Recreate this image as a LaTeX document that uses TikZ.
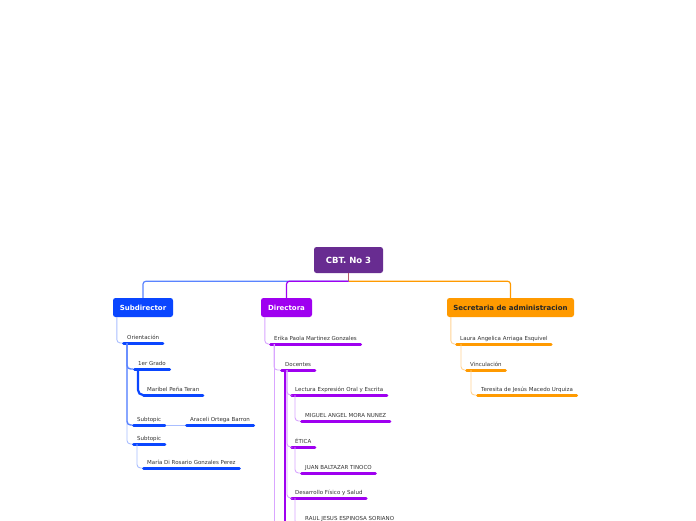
\documentclass[tikz,border=0pt]{standalone}
\usepackage{fontspec}
\newfontfamily\mapfont{DejaVu Sans}
\usetikzlibrary{calc}
\definecolor{cRoot}{HTML}{682C91}
\definecolor{cStub}{HTML}{B85A6A}
\definecolor{cBlue}{HTML}{0A46FF}
\definecolor{cBlueM}{HTML}{5A84FF}
\definecolor{cBlueL}{HTML}{A9BEFF}
\definecolor{cPurp}{HTML}{9F00F0}
\definecolor{cPurpL}{HTML}{D9A6FF}
\definecolor{cOrng}{HTML}{FF9A00}
\definecolor{cOrngL}{HTML}{FFD394}
\definecolor{cInk}{HTML}{333333}
\tikzset{
  mainbox/.style ={rounded corners=2.5pt, minimum height=19pt, inner sep=0pt,
                   font=\mapfont\bfseries\fontsize{7}{8}\selectfont, text=white},
  rootbox/.style ={mainbox, fill=cRoot, minimum width=69pt, minimum height=26pt,
                   font=\mapfont\bfseries\fontsize{8.5}{10}\selectfont},
  uline/.style   ={line width=3pt, line cap=round, shorten <=1.5pt, shorten >=1.5pt},
  topic/.style   ={anchor=south west, inner xsep=5pt, inner ysep=2.6pt,
                   text height=4pt, text depth=1.2pt, text=cInk,
                   font=\mapfont\fontsize{5.5}{6.5}\selectfont,
                   append after command={\pgfextra{\let\topicnode\tikzlastnode}
                     (\topicnode.south west) edge[uline, draw=#1] (\topicnode.south east)}},
  trunk/.style   ={line width=1.2pt, rounded corners=3pt},
  thinlink/.style={line width=0.9pt, rounded corners=3.5pt},
  midlink/.style ={line width=1.4pt, rounded corners=3.5pt},
  heavy/.style   ={line width=2.2pt, rounded corners=5pt}
}

\begin{document}
\begin{tikzpicture}[x=1pt, y=-1pt]

  \clip (0,0) rectangle (696,520);
  \fill[white] (0,0) rectangle (696,520);

  % ====================== Main boxes ======================
  \node[rootbox] (root) at (348.5,260) {CBT. No 3};
  \node[mainbox, fill=cBlue, minimum width=60pt] (sub) at (143,307.5) {Subdirector};
  \node[mainbox, fill=cPurp, minimum width=51pt] (dir) at (286.5,307.5) {Directora};
  \node[mainbox, fill=cOrng, minimum width=127pt, text=black!85] (sec) at (510.5,307.5)
        {Secretaria de administracion};

  \coordinate (hub) at ([yshift=-8pt]root.south);
  \draw[trunk, cOrng]  (hub) -| (sec.north);
  \draw[trunk, cBlueM] (hub) -| (sub.north);
  \draw[trunk, cPurp]  (hub) -| (dir.north);
  \draw[line width=1.2pt, cStub] (root.south) -- (hub);

  % ====================== Subdirector ======================
  \node[topic=cBlue] (ori)     at (122,343) {Orientación};
  \node[topic=cBlue] (grade)   at (133,369) {1er Grado};
  \node[topic=cBlue] (maribel) at (142,395) {Maribel Peña Teran};
  \node[topic=cBlue] (stA)     at (132,425) {Subtopic};
  \node[topic=cBlue] (araceli) at (185,425) {Araceli Ortega Barron};
  \node[topic=cBlue] (stB)     at (132,444) {Subtopic};
  \node[topic=cBlue] (maria)   at (142,468) {María Di Rosario Gonzales Perez};

  \draw[thinlink, cBlueL] ([xshift=4pt]sub.south west) |- (ori.south west);
  \draw[thinlink, cBlueL] ([xshift=5pt]ori.south west) |- (stB.south west);
  \draw[midlink, cBlueM]  ([xshift=5pt]ori.south west) |- (stA.south west);
  \draw[midlink, cBlueM]  ([xshift=5pt]ori.south west) |- (grade.south west);
  \draw[heavy, cBlue]     ([xshift=5pt]grade.south west) |- (maribel.south west);
  \draw[thinlink, cBlueL] (stA.south east) -- (araceli.south west);
  \draw[thinlink, cBlueL] ([xshift=5pt]stB.south west) |- (maria.south west);

  % ====================== Directora ======================
  \node[topic=cPurp] (erika)    at (269,344) {Erika Paola Martinez Gonzales};
  \node[topic=cPurp] (docentes) at (280,370) {Docentes};
  \node[topic=cPurp] (lectura)  at (290,395) {Lectura Expresión Oral y Escrita};
  \node[topic=cPurp] (miguel)   at (300,421) {MIGUEL ANGEL MORA NUNEZ};
  \node[topic=cPurp] (etica)    at (290,447) {ÉTICA};
  \node[topic=cPurp] (juan)     at (300,473) {JUAN BALTAZAR TINOCO};
  \node[topic=cPurp] (fisico)   at (290,498) {Desarrollo Físico y Salud};
  \node[topic=cPurp] (raul)     at (300,524) {RAUL JESUS ESPINOSA SORIANO};

  \coordinate (erikaMore) at (274,540);
  \coordinate (docMore)   at (285,540);

  \draw[thinlink, cPurpL] ([xshift=4pt]dir.south west) |- (erika.south west);
  \draw[thinlink, cPurpL] (erikaMore |- erika.south) -- (erikaMore);
  \draw[thinlink, cPurpL] ([xshift=5pt]erika.south west) |- (docentes.south west);
  \draw[thinlink, cPurpL] ([xshift=7pt]docentes.south west) |- (lectura.south west);
  \draw[thinlink, cPurpL] ([xshift=7pt]docentes.south west) |- (etica.south west);
  \draw[thinlink, cPurpL] ([xshift=7pt]docentes.south west) |- (fisico.south west);
  \draw[heavy, cPurp]     (docMore |- docentes.south) -- (docMore);
  \draw[thinlink, cPurpL] ([xshift=5pt]lectura.south west) |- (miguel.south west);
  \draw[thinlink, cPurpL] ([xshift=5pt]etica.south west) |- (juan.south west);
  \draw[thinlink, cPurpL] ([xshift=5pt]fisico.south west) |- (raul.south west);

  % ====================== Secretaria ======================
  \node[topic=cOrng] (laura)    at (455,344) {Laura Angelica Arriaga Esquivel};
  \node[topic=cOrng] (vinc)     at (465,370) {Vinculación};
  \node[topic=cOrng] (teresita) at (476,395) {Teresita de Jesús Macedo Urquiza};

  \draw[thinlink, cOrngL] ([xshift=4pt]sec.south west) |- (laura.south west);
  \draw[thinlink, cOrngL] ([xshift=6pt]laura.south west) |- (vinc.south west);
  \draw[thinlink, cOrngL] ([xshift=6pt]vinc.south west) |- (teresita.south west);

\end{tikzpicture}
\end{document}
